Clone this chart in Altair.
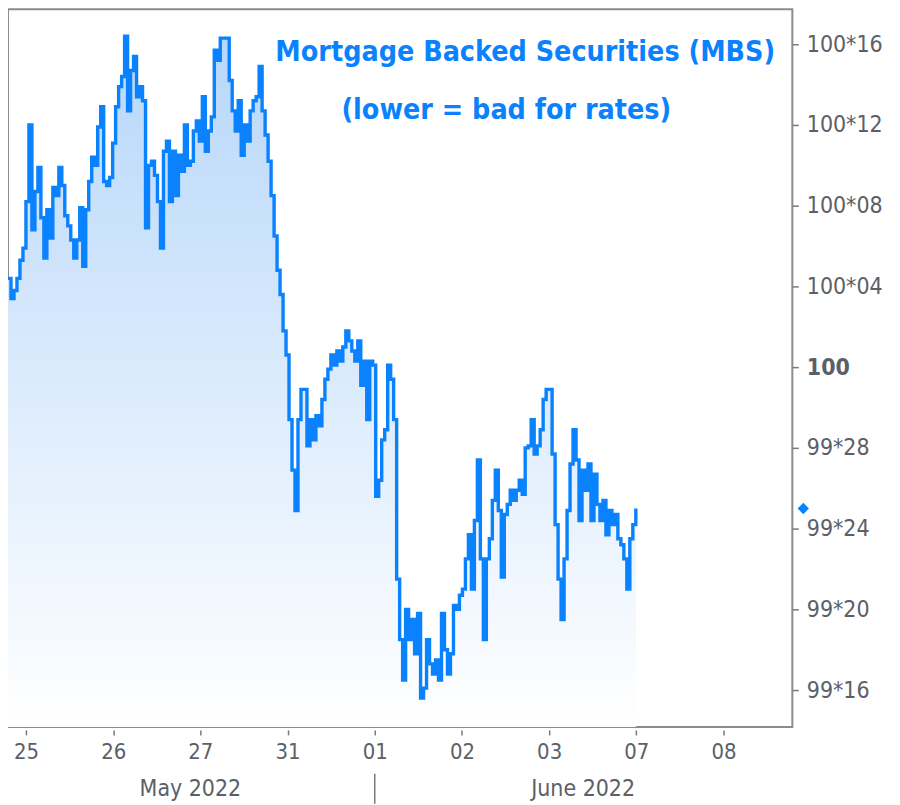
import altair as alt
import numpy as np
import pandas as pd

# ---- data ----
day_labels = ["25", "26", "27", "31", "01", "02", "03", "07", "08"]
month_labels = ["May 2022", "June 2022"]
month_centers = [1.886, 6.39]          # in trading-day index units
month_boundary = [4.0]                  # between May and June
y_ticks_32nds = [16, 20, 24, 28, 32, 36, 40, 44, 48]   # 32nds above 99

# MBS price, in 32nds above 99 (e.g. 32 = 100, 48 = 100*16), sampled evenly in time
mbs_32nds = [
    36.4, 35.4, 35.8, 36.4, 37.3, 37.9, 40.2, 44.0, 38.8, 40.7,
    41.9, 39.4, 37.4, 39.8, 38.4, 40.9, 40.5, 41.9, 41.0, 39.5,
    39.0, 38.3, 37.4, 38.3, 39.9, 37.0, 39.8, 41.2, 42.4, 42.0,
    43.9, 44.9, 41.2, 41.0, 41.4, 43.1, 44.9, 45.9, 46.4, 48.4,
    44.7, 46.7, 47.4, 45.4, 45.9, 45.2, 38.9, 42.0, 42.2, 41.5,
    40.2, 37.9, 42.7, 43.2, 40.2, 42.7, 40.5, 42.5, 41.7, 44.0,
    42.0, 42.2, 43.7, 44.2, 43.2, 45.4, 42.7, 43.7, 44.4, 47.7,
    47.2, 48.3, 48.3, 48.3, 46.2, 44.7, 43.7, 45.2, 42.5, 44.0,
    43.2, 44.7, 45.2, 45.4, 46.9, 44.7, 43.5, 42.2, 40.5, 38.5,
    36.8, 35.6, 33.8, 32.6, 29.4, 26.9, 24.9, 29.4, 30.9, 30.9,
    28.1, 29.4, 28.4, 29.6, 29.1, 30.4, 31.4, 31.9, 32.6, 32.1,
    32.8, 32.3, 33.0, 33.8, 33.3, 32.8, 32.3, 33.3, 31.1, 32.3,
    29.4, 32.3, 32.1, 25.6, 26.4, 28.4, 28.9, 32.1, 31.4, 29.4,
    21.5, 18.5, 16.5, 20.0, 18.5, 19.5, 17.8, 19.8, 15.6, 16.1,
    18.5, 17.3, 16.8, 17.5, 16.5, 19.8, 18.0, 16.8, 17.8, 20.2,
    20.0, 20.7, 21.0, 22.5, 23.7, 21.0, 24.4, 27.4, 22.5, 18.5,
    22.5, 23.5, 25.4, 26.9, 24.9, 21.6, 24.7, 25.2, 25.9, 25.4,
    25.9, 26.4, 25.7, 28.0, 28.1, 29.4, 27.7, 28.1, 28.9, 30.4,
    30.9, 30.9, 27.7, 24.2, 21.5, 19.5, 22.5, 24.9, 27.2, 28.9,
    27.4, 24.4, 26.9, 25.9, 27.2, 24.4, 26.7, 25.2, 24.4, 25.4,
    23.7, 24.9, 24.2, 24.7, 23.5, 23.2, 22.5, 21.0, 23.5, 24.2,
    25.0,
]
series_start, series_end = -0.206, 6.994   # first / last sample, trading-day index
x_domain = [-0.206, 8.789]
y_domain = [99.443, 100.554]

# ---- tables ----
prices = 99 + np.array(mbs_32nds) / 32.0
df = pd.DataFrame({"t": np.linspace(series_start, series_end, len(prices)), "price": prices})
last_df = df.tail(1)
months_df = pd.DataFrame({"t": month_centers, "m": month_labels})
sep_df = pd.DataFrame({"t": month_boundary})
y_tick_values = [99 + v / 32.0 for v in y_ticks_32nds]

FONT = "DejaVu Sans Condensed, DejaVu Sans"
BLUE = "#0a82fd"
GRAY_TXT = "#5b6068"
W, H = 787, 720

day_expr = "[" + ",".join("'%s'" % d for d in day_labels) + "][datum.value]"
frac = "round((datum.value - floor(datum.value + 1e-9)) * 32)"
y_expr = ("datum.value == 100 ? '100' : floor(datum.value + 1e-9) + '*' + "
          f"({frac} < 10 ? '0' : '') + {frac}")

x_enc = alt.X(
    "t:Q",
    scale=alt.Scale(domain=x_domain, nice=False, zero=False),
    axis=alt.Axis(values=list(range(len(day_labels))), labelExpr=day_expr, title=None,
                  grid=False, domain=False, tickSize=5, tickColor="#7a7a7a", tickWidth=1.5,
                  offset=3, labelFont=FONT, labelFontSize=22, labelColor=GRAY_TXT,
                  labelPadding=7, labelFontWeight="normal", labelFlush=False),
)
y_enc = alt.Y(
    "price:Q",
    scale=alt.Scale(domain=y_domain, nice=False, zero=False),
    axis=alt.Axis(orient="right", values=y_tick_values, labelExpr=y_expr, title=None,
                  grid=False, domain=False, tickSize=6, tickColor="#7a7a7a", tickWidth=1.5,
                  labelFont=FONT, labelFontSize=23, labelColor=GRAY_TXT, labelPadding=8,
                  labelFontWeight={"condition": {"test": "datum.value == 100", "value": "bold"},
                                   "value": "normal"}),
)

area = alt.Chart(df).mark_area(
    interpolate="step-after",
    color=alt.Gradient(
        gradient="linear",
        stops=[alt.GradientStop(color="#b7d7fa", offset=0),
               alt.GradientStop(color="#ffffff", offset=1)],
        x1=1, x2=1, y1=0, y2=1,
    ),
).encode(x=x_enc, y=y_enc, y2=alt.datum(y_domain[0]))

line = alt.Chart(df).mark_line(interpolate="step-after", color=BLUE, strokeWidth=3.4).encode(
    x="t:Q", y="price:Q")

diamond = alt.Chart(last_df).mark_point(shape="diamond", filled=True, color=BLUE, size=130,
                                        opacity=1).encode(x=alt.value(W + 11), y="price:Q")

title1 = alt.Chart(pd.DataFrame({"a": [0]})).mark_text(
    text="Mortgage Backed Securities (MBS)", font=FONT, fontSize=28.5, fontWeight="bold",
    color=BLUE, align="center", baseline="alphabetic").encode(x=alt.value(519), y=alt.value(52))
title2 = alt.Chart(pd.DataFrame({"a": [0]})).mark_text(
    text="(lower = bad for rates)", font=FONT, fontSize=28.5, fontWeight="bold",
    color=BLUE, align="center", baseline="alphabetic").encode(x=alt.value(500), y=alt.value(110))

months = alt.Chart(months_df).mark_text(
    font=FONT, fontSize=23, color=GRAY_TXT, align="center", baseline="alphabetic").encode(
    x="t:Q", y=alt.value(H + 69), text="m:N")

sep = alt.Chart(sep_df).mark_rule(color="#7a7a7a", strokeWidth=1.5).encode(
    x="t:Q", y=alt.value(H + 47), y2=alt.value(H + 77))

chart = alt.layer(area, line, diamond, title1, title2, months, sep).properties(
    width=W, height=H, padding={"left": 0, "top": 0, "right": 100, "bottom": 77},
    autosize=alt.AutoSizeParams(type="none"),
    background="white",
).configure_view(stroke="#8c8c8c", strokeWidth=2)

chart.save("out.html", embed_options={"renderer": "svg", "actions": False})
